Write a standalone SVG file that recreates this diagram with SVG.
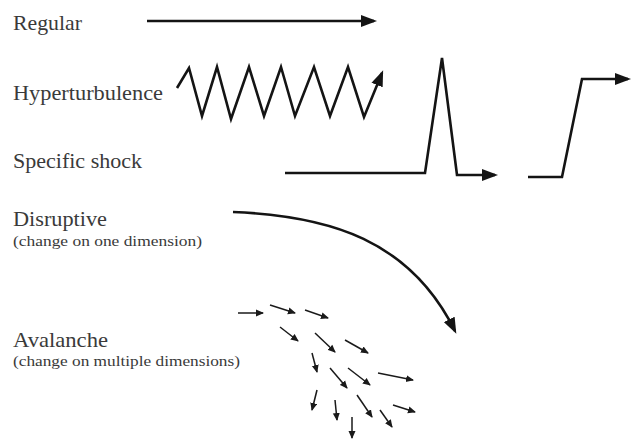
<svg xmlns="http://www.w3.org/2000/svg" width="631" height="441" viewBox="0 0 631 441">
<style>
.lbl{font-family:"Liberation Serif","Times New Roman",serif;font-size:21px;fill:#3a3a3a}
.sub{font-family:"Liberation Serif","Times New Roman",serif;font-size:15.5px;fill:#3a3a3a}
.big{fill:none;stroke:#141414;stroke-width:2.6;stroke-linejoin:miter;marker-end:url(#bigHead)}
.small{fill:none;stroke:#1a1a1a;stroke-width:1.5;marker-end:url(#smallHead)}
</style>
<defs>
<marker id="bigHead" markerUnits="userSpaceOnUse" markerWidth="17" markerHeight="13" refX="13" refY="6" orient="auto" viewBox="0 0 17 12">
<path d="M0,0 L16,6 L0,12 z" fill="#141414"/>
</marker>
<marker id="smallHead" markerUnits="userSpaceOnUse" markerWidth="9" markerHeight="8" refX="7" refY="3.5" orient="auto" viewBox="0 0 9 7">
<path d="M0,0 L8,3.5 L0,7 z" fill="#1a1a1a"/>
</marker>
</defs>
<rect width="631" height="441" fill="#ffffff"/>

<g id="regular">
<text class="lbl" x="13" y="30" textLength="69" lengthAdjust="spacingAndGlyphs">Regular</text>
</g>
<g id="hyperturbulence">
<text class="lbl" x="13" y="100" textLength="150" lengthAdjust="spacingAndGlyphs">Hyperturbulence</text>
</g>
<g id="specific-shock">
<text class="lbl" x="13" y="168" textLength="129" lengthAdjust="spacingAndGlyphs">Specific shock</text>
</g>
<g id="disruptive">
<text class="lbl" x="13" y="226" textLength="94" lengthAdjust="spacingAndGlyphs">Disruptive</text>
<text class="sub" x="13" y="246" textLength="189" lengthAdjust="spacingAndGlyphs">(change on one dimension)</text>
</g>
<g id="avalanche">
<text class="lbl" x="13" y="347" textLength="95" lengthAdjust="spacingAndGlyphs">Avalanche</text>
<text class="sub" x="13" y="366" textLength="227" lengthAdjust="spacingAndGlyphs">(change on multiple dimensions)</text>
</g>

<g id="connectors">
<path class="big" d="M147,21 L374,21"/>
<path class="big" d="M177,88 L189,68 L202,116 L217,67 L231,119 L249,67 L264,116 L281,67 L295,116 L314,67 L330,116 L348,67 L364,117 L382,73"/>
<path class="big" d="M285,173 L425,173 L442,58 L457,175 L495,175"/>
<path class="big" d="M528,177 L562,177 L582,79 L628,79"/>
<path class="big" d="M233,212 C330,216 410,240 455,331"/>
<path class="small" d="M238,313 L263,313"/>
<path class="small" d="M270,305 L295,313"/>
<path class="small" d="M305,310 L328,318"/>
<path class="small" d="M280,327 L298,341"/>
<path class="small" d="M315,333 L335,352"/>
<path class="small" d="M345,340 L368,353"/>
<path class="small" d="M312,353 L317,372"/>
<path class="small" d="M330,368 L347,388"/>
<path class="small" d="M348,368 L370,385"/>
<path class="small" d="M378,373 L413,380"/>
<path class="small" d="M317,390 L312,410"/>
<path class="small" d="M335,400 L337,420"/>
<path class="small" d="M357,395 L372,417"/>
<path class="small" d="M380,410 L392,427"/>
<path class="small" d="M393,405 L415,412"/>
<path class="small" d="M352,417 L352,438"/>
</g>
</svg>
